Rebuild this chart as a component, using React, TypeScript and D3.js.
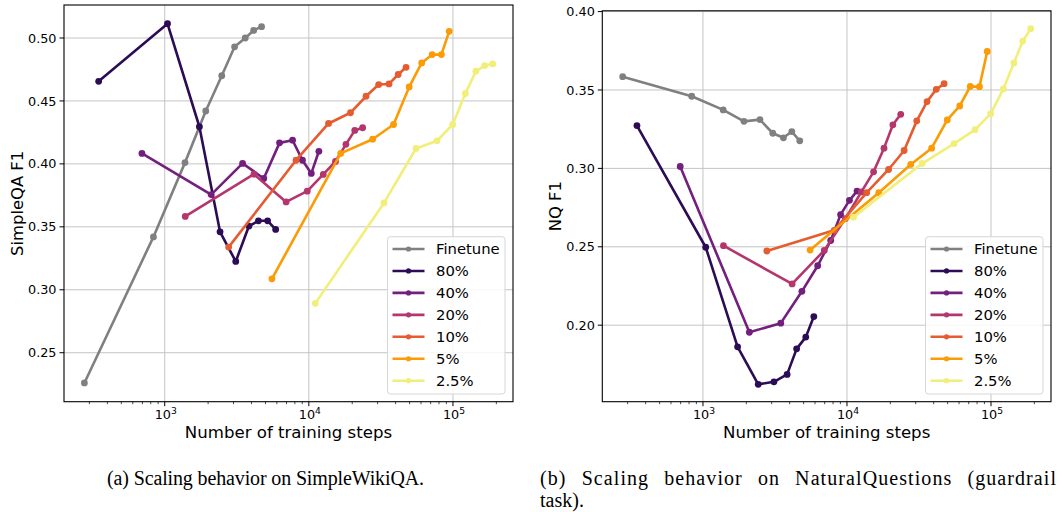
import * as d3 from "d3";
import React, { useEffect, useRef } from "react";

const W = 1059;
const H = 512;

const seriesNames = ["Finetune", "80%", "40%", "20%", "10%", "5%", "2.5%"];
const seriesColors = ["#808080", "#2c0c55", "#731f7e", "#b5366c", "#e55c30", "#fb9b06", "#f2ee7a"];

// training steps per run, with F1 on SimpleWikiQA (wiki) and NaturalQuestions (nq)
const finetuneSteps = [277, 835, 1382, 1926, 2487, 3053, 3620, 4140, 4700];
const finetuneWiki = [0.226, 0.342, 0.401, 0.442, 0.47, 0.493, 0.5, 0.506, 0.509];
const finetuneNq = [0.3585, 0.346, 0.3373, 0.33, 0.3311, 0.3224, 0.3195, 0.3235, 0.3176];

const p80Steps = [348, 1045, 1740, 2420, 3110, 3840, 4470, 5175, 5885];
const p80Wiki = [0.4656, 0.5114, 0.4295, 0.346, 0.3225, 0.3506, 0.3548, 0.3548, 0.3479];
const p80Nq = [0.3273, 0.2497, 0.1862, 0.1623, 0.1639, 0.1686, 0.1849, 0.1924, 0.2055];

const p40Steps = [695, 2100, 3470, 4865, 6260, 7710, 9030, 10400, 11740];
const p40Wiki = [0.4083, 0.3756, 0.4004, 0.3884, 0.4167, 0.4188, 0.4029, 0.3924, 0.41];
const p40Nq = [0.3012, 0.1955, 0.2013, 0.2216, 0.2379, 0.254, 0.2705, 0.2796, 0.2855];

const p20Steps = [1388, 4160, 6955, 9750, 12590, 15300, 18080, 20830, 23620];
const p20Wiki = [0.3583, 0.3918, 0.3698, 0.3783, 0.3916, 0.4019, 0.4155, 0.4266, 0.4287];
const p20Nq = [0.2507, 0.2263, 0.2477, 0.268, 0.285, 0.2978, 0.3129, 0.3278, 0.3345];

const p10Steps = [2777, 8150, 13700, 19450, 24940, 30520, 35990, 41690, 47260];
const p10Wiki = [0.3339, 0.4029, 0.4321, 0.4406, 0.4537, 0.463, 0.4635, 0.471, 0.4767];
const p10Nq = [0.2473, 0.2605, 0.2845, 0.2993, 0.3114, 0.3303, 0.3426, 0.3504, 0.354];

const p5Steps = [5545, 16630, 27710, 38700, 49700, 60680, 71780, 83110, 94170];
const p5Wiki = [0.3087, 0.4083, 0.4196, 0.4313, 0.4611, 0.4802, 0.4868, 0.4868, 0.5053];
const p5Nq = [0.2479, 0.2845, 0.3025, 0.3129, 0.3309, 0.3398, 0.3523, 0.3521, 0.3746];

const p25Steps = [11085, 33220, 55400, 77520, 99615, 121940, 144225, 166100, 188800];
const p25Wiki = [0.2892, 0.369, 0.4122, 0.4183, 0.4313, 0.4559, 0.4736, 0.4781, 0.4794];
const p25Nq = [0.2689, 0.3031, 0.3158, 0.3247, 0.3349, 0.3507, 0.3672, 0.3812, 0.3891];

const wikiTicks = [0.25, 0.3, 0.35, 0.4, 0.45, 0.5];
const nqTicks = [0.2, 0.25, 0.3, 0.35, 0.4];
const stepTicks = [1e3, 1e4, 1e5];

const series = [
  { steps: finetuneSteps, wiki: finetuneWiki, nq: finetuneNq },
  { steps: p80Steps, wiki: p80Wiki, nq: p80Nq },
  { steps: p40Steps, wiki: p40Wiki, nq: p40Nq },
  { steps: p20Steps, wiki: p20Wiki, nq: p20Nq },
  { steps: p10Steps, wiki: p10Wiki, nq: p10Nq },
  { steps: p5Steps, wiki: p5Wiki, nq: p5Nq },
  { steps: p25Steps, wiki: p25Wiki, nq: p25Nq },
].map((s, i) => ({ ...s, name: seriesNames[i], color: seriesColors[i] }));

const SANS = "'DejaVu Sans', sans-serif";
const SERIF = "'Liberation Serif', 'Times New Roman', serif";

type Panel = {
  left: number;
  right: number;
  top: number;
  bottom: number;
  yDomain: [number, number];
  yTicks: number[];
  yLabel: string;
  key: "wiki" | "nq";
};

function drawPanel(svg: any, p: Panel) {
  const x = d3.scaleLog().domain([200, 261000]).range([p.left, p.right]);
  const y = d3.scaleLinear().domain(p.yDomain).range([p.bottom, p.top]);
  const g = svg.append("g");

  // grid
  g.selectAll(".vgrid")
    .data(stepTicks)
    .enter()
    .append("line")
    .attr("x1", (d) => x(d))
    .attr("x2", (d) => x(d))
    .attr("y1", p.top)
    .attr("y2", p.bottom)
    .attr("stroke", "#c4c4c4")
    .attr("stroke-width", 1);
  g.selectAll(".hgrid")
    .data(p.yTicks)
    .enter()
    .append("line")
    .attr("x1", p.left)
    .attr("x2", p.right)
    .attr("y1", (d) => y(d))
    .attr("y2", (d) => y(d))
    .attr("stroke", "#c4c4c4")
    .attr("stroke-width", 1);

  // minor ticks on the log axis
  const minor: number[] = [];
  for (let e = 2; e <= 5; e++) {
    for (let k = 2; k <= 9; k++) {
      const v = k * Math.pow(10, e);
      if (v > 200 && v < 261000) minor.push(v);
    }
  }
  g.selectAll(".minor")
    .data(minor)
    .enter()
    .append("line")
    .attr("x1", (d) => x(d))
    .attr("x2", (d) => x(d))
    .attr("y1", p.bottom)
    .attr("y2", p.bottom + 2.5)
    .attr("stroke", "#000")
    .attr("stroke-width", 0.7);
  g.selectAll(".major")
    .data(stepTicks)
    .enter()
    .append("line")
    .attr("x1", (d) => x(d))
    .attr("x2", (d) => x(d))
    .attr("y1", p.bottom)
    .attr("y2", p.bottom + 4.5)
    .attr("stroke", "#000")
    .attr("stroke-width", 1);
  const xl = g
    .selectAll(".xlab")
    .data(stepTicks)
    .enter()
    .append("text")
    .attr("x", (d) => x(d) + 1)
    .attr("y", p.bottom + 17)
    .attr("text-anchor", "middle")
    .attr("font-family", SANS)
    .attr("font-size", 12.8)
    .attr("fill", "#000");
  xl.append("tspan").text("10");
  xl.append("tspan")
    .attr("dy", -5)
    .attr("font-size", 9.2)
    .text((d) => String(Math.round(Math.log10(d))));

  g.selectAll(".ytick")
    .data(p.yTicks)
    .enter()
    .append("line")
    .attr("x1", p.left - 4.5)
    .attr("x2", p.left)
    .attr("y1", (d) => y(d))
    .attr("y2", (d) => y(d))
    .attr("stroke", "#000")
    .attr("stroke-width", 1);
  g.selectAll(".ylab")
    .data(p.yTicks)
    .enter()
    .append("text")
    .attr("x", p.left - 7.5)
    .attr("y", (d) => y(d))
    .attr("dy", "0.36em")
    .attr("text-anchor", "end")
    .attr("font-family", SANS)
    .attr("font-size", 12.8)
    .attr("fill", "#000")
    .text((d) => d3.format(".2f")(d));

  // series
  const line = d3
    .line<[number, number]>()
    .x((d) => x(d[0]))
    .y((d) => y(d[1]));
  series.forEach((s) => {
    const pts: [number, number][] = s.steps.map((v, i) => [v, s[p.key][i]]);
    g.append("path")
      .attr("d", line(pts))
      .attr("fill", "none")
      .attr("stroke", s.color)
      .attr("stroke-width", 2.6)
      .attr("stroke-linejoin", "round");
    g.selectAll(null)
      .data(pts)
      .enter()
      .append("circle")
      .attr("cx", (d) => x(d[0]))
      .attr("cy", (d) => y(d[1]))
      .attr("r", 3.4)
      .attr("fill", s.color);
  });

  // frame
  g.append("rect")
    .attr("x", p.left)
    .attr("y", p.top)
    .attr("width", p.right - p.left)
    .attr("height", p.bottom - p.top)
    .attr("fill", "none")
    .attr("stroke", "#000")
    .attr("stroke-width", 1.1);

  // axis labels
  g.append("text")
    .attr("x", (p.left + p.right) / 2)
    .attr("y", p.bottom + 36.5)
    .attr("text-anchor", "middle")
    .attr("font-family", SANS)
    .attr("font-size", 16.6)
    .text("Number of training steps");
  g.append("text")
    .attr("transform", `translate(${p.left - 41}, ${(p.top + p.bottom) / 2}) rotate(-90)`)
    .attr("text-anchor", "middle")
    .attr("font-family", SANS)
    .attr("font-size", 16.4)
    .text(p.yLabel);

  // legend
  const lx = p.right - 125.5;
  const ly = 236.7;
  g.append("rect")
    .attr("x", lx)
    .attr("y", ly)
    .attr("width", 117.5)
    .attr("height", 157.3)
    .attr("rx", 3)
    .attr("fill", "#fff")
    .attr("fill-opacity", 0.85)
    .attr("stroke", "#d6d6d6")
    .attr("stroke-width", 1);
  series.forEach((s, i) => {
    const cy = ly + 12.3 + i * 21.95;
    g.append("line")
      .attr("x1", lx + 5)
      .attr("x2", lx + 37)
      .attr("y1", cy)
      .attr("y2", cy)
      .attr("stroke", s.color)
      .attr("stroke-width", 2.6);
    g.append("circle").attr("cx", lx + 21).attr("cy", cy).attr("r", 2.6).attr("fill", s.color);
    g.append("text")
      .attr("x", lx + 48.5)
      .attr("y", cy)
      .attr("dy", "0.36em")
      .attr("font-family", SANS)
      .attr("font-size", 14.8)
      .attr("fill", "#000")
      .text(s.name);
  });
}

export default function App() {
  const ref = useRef<SVGSVGElement>(null);

  useEffect(() => {
    const svg = d3.select(ref.current);
    svg.selectAll("*").remove();
    svg.attr("width", W).attr("height", H);

    drawPanel(svg, {
      left: 64,
      right: 513,
      top: 5,
      bottom: 401.7,
      yDomain: [0.2111, 0.5262],
      yTicks: wikiTicks,
      yLabel: "SimpleQA F1",
      key: "wiki",
    });
    drawPanel(svg, {
      left: 602.3,
      right: 1051,
      top: 10.8,
      bottom: 401.7,
      yDomain: [0.1512, 0.4005],
      yTicks: nqTicks,
      yLabel: "NQ F1",
      key: "nq",
    });

    // captions
    svg.append("text")
      .attr("x", 107)
      .attr("y", 485)
      .attr("font-family", SERIF)
      .attr("font-size", 20)
      .attr("textLength", 317)
      .attr("lengthAdjust", "spacing")
      .text("(a) Scaling behavior on SimpleWikiQA.");
    svg.append("text")
      .attr("x", 540)
      .attr("y", 485)
      .attr("font-family", SERIF)
      .attr("font-size", 20)
      .attr("word-spacing", 9)
      .attr("textLength", 516)
      .attr("lengthAdjust", "spacing")
      .text("(b) Scaling behavior on NaturalQuestions (guardrail");
    svg.append("text")
      .attr("x", 540)
      .attr("y", 507)
      .attr("font-family", SERIF)
      .attr("font-size", 20)
      .text("task).");
  }, []);

  return <svg ref={ref} style={{ position: "absolute", left: 0, top: 0 }}></svg>;
}
